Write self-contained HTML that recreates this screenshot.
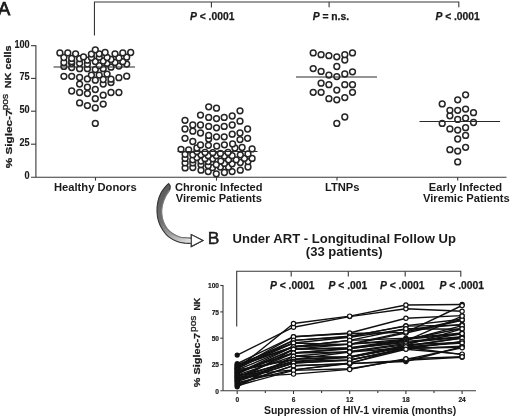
<!DOCTYPE html>
<html lang="en"><head><meta charset="utf-8"><title>Figure</title>
<style>
html,body{margin:0;padding:0;background:#fff;}
body{width:520px;height:419px;overflow:hidden;position:relative;font-family:"Liberation Sans",Arial,sans-serif;}
svg text{white-space:pre;}
</style></head><body>
<svg width="520" height="419" viewBox="0 0 520 419" style="display:block;position:absolute;left:0;top:0">
<defs><linearGradient id="ag" gradientUnits="userSpaceOnUse" x1="160" y1="186" x2="196" y2="246"><stop offset="0" stop-color="#5a5a5a"/><stop offset="0.45" stop-color="#6e6e6e"/><stop offset="0.78" stop-color="#bdbdbd"/><stop offset="1" stop-color="#fff"/></linearGradient></defs>
<rect width="520" height="419" fill="#fff"/>
<g stroke="#383838" stroke-width="1.1" fill="none" stroke-linecap="butt">
<path d="M35.9 45.2V177.3"/>
<path d="M31 177.3H506.5"/>
<path d="M31 45.7H35.9"/>
<path d="M31 78.4H35.9"/>
<path d="M31 111.2H35.9"/>
<path d="M31 144.2H35.9"/>
<path d="M95.5 177.3V180.6"/>
<path d="M216.5 177.3V180.6"/>
<path d="M337 177.3V180.6"/>
<path d="M457.7 177.3V180.6"/>
<path d="M94.45 35.4V2H458.8V7.3"/>
<path d="M211.4 2V7.6"/><path d="M329.1 2V7.3"/>
</g>
<g fill="#fff" stroke="#262626" stroke-width="1.5">
<circle cx="95.3" cy="123.4" r="2.9"/><circle cx="95.3" cy="107.9" r="2.9"/><circle cx="87.4" cy="105.6" r="2.9"/><circle cx="103.2" cy="104.1" r="2.9"/><circle cx="79.6" cy="102.9" r="2.9"/><circle cx="95.3" cy="98.7" r="2.9"/><circle cx="103.2" cy="95.2" r="2.9"/><circle cx="87.4" cy="93.6" r="2.9"/><circle cx="79.6" cy="92.5" r="2.9"/><circle cx="111.0" cy="92.5" r="2.9"/><circle cx="118.9" cy="92.5" r="2.9"/><circle cx="71.7" cy="91.0" r="2.9"/><circle cx="95.3" cy="89.5" r="2.9"/><circle cx="87.4" cy="87.2" r="2.9"/><circle cx="79.6" cy="84.1" r="2.9"/><circle cx="103.2" cy="84.1" r="2.9"/><circle cx="111.0" cy="82.5" r="2.9"/><circle cx="95.3" cy="80.2" r="2.9"/><circle cx="103.2" cy="79.5" r="2.9"/><circle cx="111.0" cy="79.2" r="2.9"/><circle cx="87.4" cy="78.9" r="2.9"/><circle cx="118.9" cy="77.7" r="2.9"/><circle cx="79.6" cy="77.5" r="2.9"/><circle cx="63.9" cy="76.3" r="2.9"/><circle cx="71.7" cy="76.3" r="2.9"/><circle cx="126.7" cy="76.2" r="2.9"/><circle cx="91.4" cy="75.1" r="2.9"/><circle cx="99.2" cy="75.1" r="2.9"/><circle cx="107.1" cy="74.1" r="2.9"/><circle cx="95.3" cy="69.5" r="2.9"/><circle cx="79.6" cy="68.7" r="2.9"/><circle cx="87.4" cy="68.7" r="2.9"/><circle cx="103.2" cy="68.7" r="2.9"/><circle cx="71.7" cy="67.6" r="2.9"/><circle cx="111.0" cy="67.2" r="2.9"/><circle cx="63.9" cy="66.4" r="2.9"/><circle cx="118.9" cy="66.1" r="2.9"/><circle cx="99.2" cy="65.6" r="2.9"/><circle cx="87.4" cy="64.1" r="2.9"/><circle cx="126.7" cy="64.1" r="2.9"/><circle cx="71.7" cy="63.3" r="2.9"/><circle cx="79.6" cy="63.3" r="2.9"/><circle cx="107.1" cy="63.3" r="2.9"/><circle cx="63.9" cy="62.5" r="2.9"/><circle cx="115.0" cy="62.5" r="2.9"/><circle cx="71.7" cy="61.7" r="2.9"/><circle cx="122.8" cy="61.7" r="2.9"/><circle cx="95.3" cy="61.5" r="2.9"/><circle cx="103.2" cy="61.0" r="2.9"/><circle cx="87.4" cy="60.2" r="2.9"/><circle cx="111.0" cy="59.5" r="2.9"/><circle cx="79.6" cy="58.7" r="2.9"/><circle cx="71.7" cy="58.4" r="2.9"/><circle cx="118.9" cy="57.9" r="2.9"/><circle cx="63.9" cy="57.5" r="2.9"/><circle cx="91.4" cy="57.5" r="2.9"/><circle cx="107.1" cy="57.5" r="2.9"/><circle cx="99.2" cy="57.2" r="2.9"/><circle cx="126.7" cy="57.2" r="2.9"/><circle cx="83.5" cy="56.9" r="2.9"/><circle cx="91.4" cy="54.1" r="2.9"/><circle cx="75.6" cy="53.8" r="2.9"/><circle cx="99.2" cy="53.8" r="2.9"/><circle cx="115.0" cy="53.8" r="2.9"/><circle cx="59.9" cy="52.9" r="2.9"/><circle cx="67.8" cy="52.9" r="2.9"/><circle cx="122.8" cy="52.9" r="2.9"/><circle cx="105.1" cy="52.5" r="2.9"/><circle cx="130.7" cy="52.5" r="2.9"/><circle cx="95.3" cy="49.8" r="2.9"/>
<circle cx="216.3" cy="173.8" r="2.9"/><circle cx="224.4" cy="172.5" r="2.9"/><circle cx="232.1" cy="171.6" r="2.9"/><circle cx="208.2" cy="171.6" r="2.9"/><circle cx="240.3" cy="170.2" r="2.9"/><circle cx="201.0" cy="170.2" r="2.9"/><circle cx="185.1" cy="167.9" r="2.9"/><circle cx="212.5" cy="167.7" r="2.9"/><circle cx="192.8" cy="167.5" r="2.9"/><circle cx="248.0" cy="167.0" r="2.9"/><circle cx="228.5" cy="167.0" r="2.9"/><circle cx="220.4" cy="167.0" r="2.9"/><circle cx="208.2" cy="165.7" r="2.9"/><circle cx="216.3" cy="164.7" r="2.9"/><circle cx="201.0" cy="164.7" r="2.9"/><circle cx="232.1" cy="163.8" r="2.9"/><circle cx="224.4" cy="163.4" r="2.9"/><circle cx="185.1" cy="162.9" r="2.9"/><circle cx="192.8" cy="162.9" r="2.9"/><circle cx="240.3" cy="162.5" r="2.9"/><circle cx="248.0" cy="161.6" r="2.9"/><circle cx="208.2" cy="161.6" r="2.9"/><circle cx="220.8" cy="161.1" r="2.9"/><circle cx="201.0" cy="161.1" r="2.9"/><circle cx="236.2" cy="159.8" r="2.9"/><circle cx="228.5" cy="159.8" r="2.9"/><circle cx="192.8" cy="159.8" r="2.9"/><circle cx="212.8" cy="158.8" r="2.9"/><circle cx="205.0" cy="158.7" r="2.9"/><circle cx="252.1" cy="158.4" r="2.9"/><circle cx="244.4" cy="158.4" r="2.9"/><circle cx="185.1" cy="158.4" r="2.9"/><circle cx="196.9" cy="157.5" r="2.9"/><circle cx="224.4" cy="156.1" r="2.9"/><circle cx="216.3" cy="155.7" r="2.9"/><circle cx="232.1" cy="155.7" r="2.9"/><circle cx="208.2" cy="155.7" r="2.9"/><circle cx="240.3" cy="154.8" r="2.9"/><circle cx="192.8" cy="154.8" r="2.9"/><circle cx="201.0" cy="154.8" r="2.9"/><circle cx="185.1" cy="154.3" r="2.9"/><circle cx="248.0" cy="153.9" r="2.9"/><circle cx="220.4" cy="153.4" r="2.9"/><circle cx="212.8" cy="152.7" r="2.9"/><circle cx="228.0" cy="152.5" r="2.9"/><circle cx="205.0" cy="152.5" r="2.9"/><circle cx="196.9" cy="151.6" r="2.9"/><circle cx="188.7" cy="149.8" r="2.9"/><circle cx="181.0" cy="149.3" r="2.9"/><circle cx="252.1" cy="148.9" r="2.9"/><circle cx="234.9" cy="148.0" r="2.9"/><circle cx="196.9" cy="148.0" r="2.9"/><circle cx="242.1" cy="147.5" r="2.9"/><circle cx="216.7" cy="146.1" r="2.9"/><circle cx="208.4" cy="145.3" r="2.9"/><circle cx="200.5" cy="144.9" r="2.9"/><circle cx="224.4" cy="144.8" r="2.9"/><circle cx="232.6" cy="143.9" r="2.9"/><circle cx="192.8" cy="141.5" r="2.9"/><circle cx="240.0" cy="139.6" r="2.9"/><circle cx="208.7" cy="139.1" r="2.9"/><circle cx="185.0" cy="138.3" r="2.9"/><circle cx="247.6" cy="138.3" r="2.9"/><circle cx="216.5" cy="136.8" r="2.9"/><circle cx="224.2" cy="136.8" r="2.9"/><circle cx="208.7" cy="135.4" r="2.9"/><circle cx="232.2" cy="134.2" r="2.9"/><circle cx="200.5" cy="133.0" r="2.9"/><circle cx="240.0" cy="133.0" r="2.9"/><circle cx="192.8" cy="131.2" r="2.9"/><circle cx="185.0" cy="129.0" r="2.9"/><circle cx="247.6" cy="129.0" r="2.9"/><circle cx="216.5" cy="127.8" r="2.9"/><circle cx="208.7" cy="126.4" r="2.9"/><circle cx="224.2" cy="126.4" r="2.9"/><circle cx="192.8" cy="125.0" r="2.9"/><circle cx="200.5" cy="125.0" r="2.9"/><circle cx="232.2" cy="125.0" r="2.9"/><circle cx="240.0" cy="121.2" r="2.9"/><circle cx="185.0" cy="120.3" r="2.9"/><circle cx="216.5" cy="118.6" r="2.9"/><circle cx="208.7" cy="117.4" r="2.9"/><circle cx="224.2" cy="117.4" r="2.9"/><circle cx="232.2" cy="116.0" r="2.9"/><circle cx="200.5" cy="115.1" r="2.9"/><circle cx="240.0" cy="110.8" r="2.9"/><circle cx="216.5" cy="108.2" r="2.9"/><circle cx="208.7" cy="106.8" r="2.9"/>
<circle cx="336.8" cy="123.4" r="2.9"/><circle cx="344.8" cy="117.0" r="2.9"/><circle cx="336.8" cy="99.8" r="2.9"/><circle cx="328.9" cy="98.7" r="2.9"/><circle cx="344.8" cy="97.6" r="2.9"/><circle cx="313.2" cy="92.3" r="2.9"/><circle cx="321.1" cy="92.3" r="2.9"/><circle cx="352.5" cy="92.3" r="2.9"/><circle cx="336.8" cy="90.1" r="2.9"/><circle cx="328.9" cy="84.7" r="2.9"/><circle cx="344.8" cy="84.7" r="2.9"/><circle cx="352.5" cy="84.7" r="2.9"/><circle cx="321.1" cy="83.2" r="2.9"/><circle cx="336.8" cy="76.6" r="2.9"/><circle cx="328.9" cy="75.1" r="2.9"/><circle cx="344.8" cy="74.0" r="2.9"/><circle cx="352.5" cy="71.8" r="2.9"/><circle cx="321.1" cy="71.4" r="2.9"/><circle cx="313.2" cy="68.6" r="2.9"/><circle cx="336.8" cy="66.5" r="2.9"/><circle cx="344.8" cy="60.0" r="2.9"/><circle cx="336.8" cy="56.8" r="2.9"/><circle cx="328.9" cy="55.7" r="2.9"/><circle cx="321.1" cy="54.7" r="2.9"/><circle cx="344.8" cy="54.7" r="2.9"/><circle cx="313.2" cy="52.9" r="2.9"/><circle cx="352.5" cy="52.9" r="2.9"/>
<circle cx="457.7" cy="161.9" r="2.9"/><circle cx="457.7" cy="151.1" r="2.9"/><circle cx="449.9" cy="149.7" r="2.9"/><circle cx="465.6" cy="147.3" r="2.9"/><circle cx="457.7" cy="139.0" r="2.9"/><circle cx="465.6" cy="135.4" r="2.9"/><circle cx="457.7" cy="130.1" r="2.9"/><circle cx="449.9" cy="128.9" r="2.9"/><circle cx="465.6" cy="127.7" r="2.9"/><circle cx="442.2" cy="123.4" r="2.9"/><circle cx="473.5" cy="122.5" r="2.9"/><circle cx="457.7" cy="119.4" r="2.9"/><circle cx="465.6" cy="118.2" r="2.9"/><circle cx="449.9" cy="115.8" r="2.9"/><circle cx="473.5" cy="112.7" r="2.9"/><circle cx="449.9" cy="110.3" r="2.9"/><circle cx="457.7" cy="110.3" r="2.9"/><circle cx="465.6" cy="109.1" r="2.9"/><circle cx="442.2" cy="103.9" r="2.9"/><circle cx="457.7" cy="99.8" r="2.9"/><circle cx="465.6" cy="94.8" r="2.9"/>
</g>
<g stroke="#2a2a2a" stroke-width="1.05" fill="none">
<path d="M53.5 66.9H135"/><path d="M177.5 151.5H257.5"/><path d="M296 77H377"/><path d="M419.5 121.5H500.1"/>
</g>
<g font-family="Liberation Sans, Arial, Helvetica, sans-serif" fill="#1a1a1a" font-weight="bold">
<text x="-2.1" y="14.9" font-size="18.4" font-weight="normal" stroke="#1a1a1a" stroke-width="0.75">A</text>
<text transform="translate(29.7 47.6) scale(0.88 1)" text-anchor="end" font-size="10.4" stroke="#1a1a1a" stroke-width="0.12">100</text>
<text transform="translate(29.7 80.3) scale(0.88 1)" text-anchor="end" font-size="10.4" stroke="#1a1a1a" stroke-width="0.12">75</text>
<text transform="translate(29.7 113.1) scale(0.88 1)" text-anchor="end" font-size="10.4" stroke="#1a1a1a" stroke-width="0.12">50</text>
<text transform="translate(29.7 146.1) scale(0.88 1)" text-anchor="end" font-size="10.4" stroke="#1a1a1a" stroke-width="0.12">25</text>
<text transform="translate(29.7 179.2) scale(0.88 1)" text-anchor="end" font-size="10.4" stroke="#1a1a1a" stroke-width="0.12">0</text>
<text transform="translate(11.6 168.2) rotate(-90) scale(1.2 1)" font-size="9.8" stroke="#1a1a1a" stroke-width="0.25">% Siglec-7</text>
<text transform="translate(7.5 110.3) rotate(-90) scale(1.04 1)" font-size="9.8" font-weight="normal" stroke="#1a1a1a" stroke-width="0.3">pos</text>
<text transform="translate(11.2 88.3) rotate(-90) scale(1.12 1)" font-size="9.7" stroke="#1a1a1a" stroke-width="0.25">NK cells</text>
<text x="190" y="19.8" font-size="10.3" stroke="#1a1a1a" stroke-width="0.25"><tspan font-style="italic">P</tspan> &lt; .0001</text>
<text x="312.7" y="19.8" font-size="10.3" stroke="#1a1a1a" stroke-width="0.25"><tspan font-style="italic">P</tspan> = n.s.</text>
<text x="435.4" y="19.8" font-size="10.3" stroke="#1a1a1a" stroke-width="0.25"><tspan font-style="italic">P</tspan> &lt; .0001</text>
<text x="95.3" y="190.9" font-size="11.2" text-anchor="middle">Healthy Donors</text>
<text x="218.8" y="190.9" font-size="11.1" text-anchor="middle">Chronic Infected</text>
<text x="218.8" y="202.2" font-size="11.1" text-anchor="middle">Viremic Patients</text>
<text x="342.2" y="190.8" font-size="11.2" text-anchor="middle">LTNPs</text>
<text x="465.5" y="190.8" font-size="11.2" text-anchor="middle">Early Infected</text>
<text x="466.4" y="202.2" font-size="11.2" text-anchor="middle">Viremic Patients</text>
</g>
<path d="M168.7 183.7 C168.3 184.1 167.4 184.4 166.2 185.9 C164.9 187.4 162.6 189.9 161.2 192.5 C159.8 195.1 158.6 198.5 157.9 201.7 C157.2 204.9 156.9 208.5 157.0 211.8 C157.1 215.2 157.7 218.7 158.7 221.8 C159.7 224.9 161.2 227.7 162.9 230.2 C164.6 232.7 166.3 235.0 168.7 236.9 C171.1 238.8 174.3 240.4 177.1 241.5 C179.9 242.6 183.0 242.9 185.4 243.2 C187.8 243.5 190.3 243.3 191.3 243.3 L191.3 246.6 L202.9 240.5 L191.3 234.6 L191.3 238.1 C189.5 237.9 183.5 237.9 180.4 237.2 C177.3 236.5 175.1 235.2 172.9 233.8 C170.7 232.4 168.7 230.5 167.1 228.5 C165.5 226.5 164.3 224.3 163.4 221.8 C162.5 219.3 161.9 216.2 161.7 213.4 C161.5 210.6 161.8 207.9 162.4 205.1 C163.0 202.3 164.2 199.2 165.4 196.7 C166.6 194.2 168.8 191.8 169.6 190.0 C170.4 188.2 170.1 186.7 170.2 186.0 Z" fill="url(#ag)" stroke="#333" stroke-width="1.1" stroke-linejoin="miter"/>
<path d="M191.3 238.1 L191.3 234.6 L202.9 240.5 L191.3 246.6 L191.3 243.3 Z" fill="#fff" stroke="#333" stroke-width="1.1"/>
<path d="M190 239.3 C188.4 239.0 183.2 238.1 180.4 237.2 C177.6 236.3 175.1 235.2 172.9 233.8 C170.7 232.4 168.7 230.5 167.1 228.5 C165.5 226.5 164.3 224.3 163.4 221.8 C162.5 219.3 161.9 216.2 161.7 213.4 C161.5 210.6 161.8 207.9 162.4 205.1 C163.0 202.3 164.2 199.2 165.4 196.7 C166.6 194.2 168.9 191.1 169.6 190.0" fill="none" stroke="#fff" stroke-opacity="0.35" stroke-width="1.2"/>
<g stroke="#383838" stroke-width="1.1" fill="none">
<path d="M223 285V390.7"/>
<path d="M220.3 390.7H476"/>
<path d="M220.3 285.5H223"/>
<path d="M220.3 311.9H223"/>
<path d="M220.3 338.2H223"/>
<path d="M220.3 364.6H223"/>
<path d="M237.2 391V394"/>
<path d="M293.5 391V394"/>
<path d="M349.7 391V394"/>
<path d="M405.9 391V394"/>
<path d="M462.1 391V394"/>
<path d="M265.3 391V393"/>
<path d="M321.6 391V393"/>
<path d="M377.8 391V393"/>
<path d="M434 391V393"/>
<path d="M236.7 326.5V271.2H460.8V276.8"/>
<path d="M291.2 271.2V276.5"/>
<path d="M348.3 271.2V276.5"/>
<path d="M405.2 271.2V276.5"/>
</g>
<g stroke="#111" stroke-width="1.4" fill="none" stroke-linejoin="round">
<path d="M237.2 355.1 L293.5 327.2 L349.7 316.6 L405.9 308.7 L462.1 311.3"/>
<path d="M237.2 368.8 L293.5 323.5 L349.7 316.1 L405.9 305.0 L462.1 304.5"/>
<path d="M237.2 363.6 L293.5 336.7 L349.7 333.5 L405.9 332.4 L462.1 305.5"/>
<path d="M237.2 367.8 L293.5 336.7 L349.7 333.0 L405.9 318.2 L462.1 315.6"/>
<path d="M237.2 368.8 L293.5 340.4 L349.7 336.7 L405.9 325.6 L462.1 319.3"/>
<path d="M237.2 365.7 L293.5 340.4 L349.7 336.1 L405.9 326.1 L462.1 325.1"/>
<path d="M237.2 364.6 L293.5 343.0 L349.7 337.2 L405.9 329.3 L462.1 324.5"/>
<path d="M237.2 367.8 L293.5 343.0 L349.7 344.6 L405.9 333.0 L462.1 320.3"/>
<path d="M237.2 369.9 L293.5 346.7 L349.7 340.4 L405.9 338.2 L462.1 333.0"/>
<path d="M237.2 373.1 L293.5 346.7 L349.7 344.1 L405.9 331.9 L462.1 319.8"/>
<path d="M237.2 365.7 L293.5 346.7 L349.7 340.4 L405.9 328.8 L462.1 329.3"/>
<path d="M237.2 366.7 L293.5 346.7 L349.7 344.1 L405.9 339.3 L462.1 334.0"/>
<path d="M237.2 374.1 L293.5 349.3 L349.7 347.7 L405.9 339.8 L462.1 328.2"/>
<path d="M237.2 373.1 L293.5 349.3 L349.7 344.1 L405.9 340.9 L462.1 316.1"/>
<path d="M237.2 380.4 L293.5 349.3 L349.7 348.3 L405.9 340.4 L462.1 325.6"/>
<path d="M237.2 377.3 L293.5 353.0 L349.7 348.8 L405.9 341.4 L462.1 336.7"/>
<path d="M237.2 372.0 L293.5 353.0 L349.7 348.3 L405.9 342.5 L462.1 337.2"/>
<path d="M237.2 372.0 L293.5 353.0 L349.7 352.0 L405.9 344.6 L462.1 342.5"/>
<path d="M237.2 386.8 L293.5 356.2 L349.7 351.4 L405.9 343.5 L462.1 333.5"/>
<path d="M237.2 375.2 L293.5 356.2 L349.7 357.2 L405.9 346.2 L462.1 337.7"/>
<path d="M237.2 371.0 L293.5 359.4 L349.7 352.0 L405.9 347.7 L462.1 341.9"/>
<path d="M237.2 369.9 L293.5 359.4 L349.7 357.2 L405.9 345.6 L462.1 338.2"/>
<path d="M237.2 378.3 L293.5 359.4 L349.7 356.7 L405.9 345.1 L462.1 328.8"/>
<path d="M237.2 379.4 L293.5 361.5 L349.7 359.9 L405.9 348.8 L462.1 346.2"/>
<path d="M237.2 376.2 L293.5 361.5 L349.7 357.2 L405.9 347.2 L462.1 354.6"/>
<path d="M237.2 380.4 L293.5 363.0 L349.7 360.4 L405.9 348.3 L462.1 347.2"/>
<path d="M237.2 381.5 L293.5 363.0 L349.7 359.9 L405.9 348.8 L462.1 341.4"/>
<path d="M237.2 383.6 L293.5 365.7 L349.7 363.6 L405.9 346.7 L462.1 343.0"/>
<path d="M237.2 384.7 L293.5 365.7 L349.7 363.6 L405.9 361.5 L462.1 346.7"/>
<path d="M237.2 382.6 L293.5 369.9 L349.7 363.6 L405.9 360.4 L462.1 357.2"/>
<path d="M237.2 375.2 L293.5 369.9 L349.7 363.0 L405.9 349.3 L462.1 354.1"/>
<path d="M237.2 385.7 L293.5 370.4 L349.7 368.8 L405.9 359.4 L462.1 347.7"/>
<path d="M237.2 377.3 L293.5 374.1 L349.7 369.4 L405.9 358.8 L462.1 356.7"/>
</g>
<g fill="#111">
<circle cx="237.2" cy="355.1" r="2.6"/>
<circle cx="237.2" cy="368.8" r="2.6"/>
<circle cx="237.2" cy="363.6" r="2.6"/>
<circle cx="237.2" cy="367.8" r="2.6"/>
<circle cx="237.2" cy="368.8" r="2.6"/>
<circle cx="237.2" cy="365.7" r="2.6"/>
<circle cx="237.2" cy="364.6" r="2.6"/>
<circle cx="237.2" cy="367.8" r="2.6"/>
<circle cx="237.2" cy="369.9" r="2.6"/>
<circle cx="237.2" cy="373.1" r="2.6"/>
<circle cx="237.2" cy="365.7" r="2.6"/>
<circle cx="237.2" cy="366.7" r="2.6"/>
<circle cx="237.2" cy="374.1" r="2.6"/>
<circle cx="237.2" cy="373.1" r="2.6"/>
<circle cx="237.2" cy="380.4" r="2.6"/>
<circle cx="237.2" cy="377.3" r="2.6"/>
<circle cx="237.2" cy="372.0" r="2.6"/>
<circle cx="237.2" cy="372.0" r="2.6"/>
<circle cx="237.2" cy="386.8" r="2.6"/>
<circle cx="237.2" cy="375.2" r="2.6"/>
<circle cx="237.2" cy="371.0" r="2.6"/>
<circle cx="237.2" cy="369.9" r="2.6"/>
<circle cx="237.2" cy="378.3" r="2.6"/>
<circle cx="237.2" cy="379.4" r="2.6"/>
<circle cx="237.2" cy="376.2" r="2.6"/>
<circle cx="237.2" cy="380.4" r="2.6"/>
<circle cx="237.2" cy="381.5" r="2.6"/>
<circle cx="237.2" cy="383.6" r="2.6"/>
<circle cx="237.2" cy="384.7" r="2.6"/>
<circle cx="237.2" cy="382.6" r="2.6"/>
<circle cx="237.2" cy="375.2" r="2.6"/>
<circle cx="237.2" cy="385.7" r="2.6"/>
<circle cx="237.2" cy="377.3" r="2.6"/>
</g>
<g fill="#fff" stroke="#111" stroke-width="1.15">
<circle cx="293.5" cy="327.2" r="2.15"/>
<circle cx="349.7" cy="316.6" r="2.15"/>
<circle cx="405.9" cy="308.7" r="2.15"/>
<circle cx="462.1" cy="311.3" r="2.15"/>
<circle cx="293.5" cy="323.5" r="2.15"/>
<circle cx="349.7" cy="316.1" r="2.15"/>
<circle cx="405.9" cy="305.0" r="2.15"/>
<circle cx="462.1" cy="304.5" r="2.15"/>
<circle cx="293.5" cy="336.7" r="2.15"/>
<circle cx="349.7" cy="333.5" r="2.15"/>
<circle cx="405.9" cy="332.4" r="2.15"/>
<circle cx="462.1" cy="305.5" r="2.15"/>
<circle cx="293.5" cy="336.7" r="2.15"/>
<circle cx="349.7" cy="333.0" r="2.15"/>
<circle cx="405.9" cy="318.2" r="2.15"/>
<circle cx="462.1" cy="315.6" r="2.15"/>
<circle cx="293.5" cy="340.4" r="2.15"/>
<circle cx="349.7" cy="336.7" r="2.15"/>
<circle cx="405.9" cy="325.6" r="2.15"/>
<circle cx="462.1" cy="319.3" r="2.15"/>
<circle cx="293.5" cy="340.4" r="2.15"/>
<circle cx="349.7" cy="336.1" r="2.15"/>
<circle cx="405.9" cy="326.1" r="2.15"/>
<circle cx="462.1" cy="325.1" r="2.15"/>
<circle cx="293.5" cy="343.0" r="2.15"/>
<circle cx="349.7" cy="337.2" r="2.15"/>
<circle cx="405.9" cy="329.3" r="2.15"/>
<circle cx="462.1" cy="324.5" r="2.15"/>
<circle cx="293.5" cy="343.0" r="2.15"/>
<circle cx="349.7" cy="344.6" r="2.15"/>
<circle cx="405.9" cy="333.0" r="2.15"/>
<circle cx="462.1" cy="320.3" r="2.15"/>
<circle cx="293.5" cy="346.7" r="2.15"/>
<circle cx="349.7" cy="340.4" r="2.15"/>
<circle cx="405.9" cy="338.2" r="2.15"/>
<circle cx="462.1" cy="333.0" r="2.15"/>
<circle cx="293.5" cy="346.7" r="2.15"/>
<circle cx="349.7" cy="344.1" r="2.15"/>
<circle cx="405.9" cy="331.9" r="2.15"/>
<circle cx="462.1" cy="319.8" r="2.15"/>
<circle cx="293.5" cy="346.7" r="2.15"/>
<circle cx="349.7" cy="340.4" r="2.15"/>
<circle cx="405.9" cy="328.8" r="2.15"/>
<circle cx="462.1" cy="329.3" r="2.15"/>
<circle cx="293.5" cy="346.7" r="2.15"/>
<circle cx="349.7" cy="344.1" r="2.15"/>
<circle cx="405.9" cy="339.3" r="2.15"/>
<circle cx="462.1" cy="334.0" r="2.15"/>
<circle cx="293.5" cy="349.3" r="2.15"/>
<circle cx="349.7" cy="347.7" r="2.15"/>
<circle cx="405.9" cy="339.8" r="2.15"/>
<circle cx="462.1" cy="328.2" r="2.15"/>
<circle cx="293.5" cy="349.3" r="2.15"/>
<circle cx="349.7" cy="344.1" r="2.15"/>
<circle cx="405.9" cy="340.9" r="2.15"/>
<circle cx="462.1" cy="316.1" r="2.15"/>
<circle cx="293.5" cy="349.3" r="2.15"/>
<circle cx="349.7" cy="348.3" r="2.15"/>
<circle cx="405.9" cy="340.4" r="2.15"/>
<circle cx="462.1" cy="325.6" r="2.15"/>
<circle cx="293.5" cy="353.0" r="2.15"/>
<circle cx="349.7" cy="348.8" r="2.15"/>
<circle cx="405.9" cy="341.4" r="2.15"/>
<circle cx="462.1" cy="336.7" r="2.15"/>
<circle cx="293.5" cy="353.0" r="2.15"/>
<circle cx="349.7" cy="348.3" r="2.15"/>
<circle cx="405.9" cy="342.5" r="2.15"/>
<circle cx="462.1" cy="337.2" r="2.15"/>
<circle cx="293.5" cy="353.0" r="2.15"/>
<circle cx="349.7" cy="352.0" r="2.15"/>
<circle cx="405.9" cy="344.6" r="2.15"/>
<circle cx="462.1" cy="342.5" r="2.15"/>
<circle cx="293.5" cy="356.2" r="2.15"/>
<circle cx="349.7" cy="351.4" r="2.15"/>
<circle cx="405.9" cy="343.5" r="2.15"/>
<circle cx="462.1" cy="333.5" r="2.15"/>
<circle cx="293.5" cy="356.2" r="2.15"/>
<circle cx="349.7" cy="357.2" r="2.15"/>
<circle cx="405.9" cy="346.2" r="2.15"/>
<circle cx="462.1" cy="337.7" r="2.15"/>
<circle cx="293.5" cy="359.4" r="2.15"/>
<circle cx="349.7" cy="352.0" r="2.15"/>
<circle cx="405.9" cy="347.7" r="2.15"/>
<circle cx="462.1" cy="341.9" r="2.15"/>
<circle cx="293.5" cy="359.4" r="2.15"/>
<circle cx="349.7" cy="357.2" r="2.15"/>
<circle cx="405.9" cy="345.6" r="2.15"/>
<circle cx="462.1" cy="338.2" r="2.15"/>
<circle cx="293.5" cy="359.4" r="2.15"/>
<circle cx="349.7" cy="356.7" r="2.15"/>
<circle cx="405.9" cy="345.1" r="2.15"/>
<circle cx="462.1" cy="328.8" r="2.15"/>
<circle cx="293.5" cy="361.5" r="2.15"/>
<circle cx="349.7" cy="359.9" r="2.15"/>
<circle cx="405.9" cy="348.8" r="2.15"/>
<circle cx="462.1" cy="346.2" r="2.15"/>
<circle cx="293.5" cy="361.5" r="2.15"/>
<circle cx="349.7" cy="357.2" r="2.15"/>
<circle cx="405.9" cy="347.2" r="2.15"/>
<circle cx="462.1" cy="354.6" r="2.15"/>
<circle cx="293.5" cy="363.0" r="2.15"/>
<circle cx="349.7" cy="360.4" r="2.15"/>
<circle cx="405.9" cy="348.3" r="2.15"/>
<circle cx="462.1" cy="347.2" r="2.15"/>
<circle cx="293.5" cy="363.0" r="2.15"/>
<circle cx="349.7" cy="359.9" r="2.15"/>
<circle cx="405.9" cy="348.8" r="2.15"/>
<circle cx="462.1" cy="341.4" r="2.15"/>
<circle cx="293.5" cy="365.7" r="2.15"/>
<circle cx="349.7" cy="363.6" r="2.15"/>
<circle cx="405.9" cy="346.7" r="2.15"/>
<circle cx="462.1" cy="343.0" r="2.15"/>
<circle cx="293.5" cy="365.7" r="2.15"/>
<circle cx="349.7" cy="363.6" r="2.15"/>
<circle cx="405.9" cy="361.5" r="2.15"/>
<circle cx="462.1" cy="346.7" r="2.15"/>
<circle cx="293.5" cy="369.9" r="2.15"/>
<circle cx="349.7" cy="363.6" r="2.15"/>
<circle cx="405.9" cy="360.4" r="2.15"/>
<circle cx="462.1" cy="357.2" r="2.15"/>
<circle cx="293.5" cy="369.9" r="2.15"/>
<circle cx="349.7" cy="363.0" r="2.15"/>
<circle cx="405.9" cy="349.3" r="2.15"/>
<circle cx="462.1" cy="354.1" r="2.15"/>
<circle cx="293.5" cy="370.4" r="2.15"/>
<circle cx="349.7" cy="368.8" r="2.15"/>
<circle cx="405.9" cy="359.4" r="2.15"/>
<circle cx="462.1" cy="347.7" r="2.15"/>
<circle cx="293.5" cy="374.1" r="2.15"/>
<circle cx="349.7" cy="369.4" r="2.15"/>
<circle cx="405.9" cy="358.8" r="2.15"/>
<circle cx="462.1" cy="356.7" r="2.15"/>
</g>
<g font-family="Liberation Sans, Arial, Helvetica, sans-serif" fill="#1a1a1a" font-weight="bold">
<text transform="translate(219 288.1) scale(0.88 1)" text-anchor="end" font-size="7.5" stroke="#1a1a1a" stroke-width="0.2">100</text>
<text transform="translate(219 314.5) scale(0.88 1)" text-anchor="end" font-size="7.5" stroke="#1a1a1a" stroke-width="0.2">75</text>
<text transform="translate(219 340.9) scale(0.88 1)" text-anchor="end" font-size="7.5" stroke="#1a1a1a" stroke-width="0.2">50</text>
<text transform="translate(219 367.2) scale(0.88 1)" text-anchor="end" font-size="7.5" stroke="#1a1a1a" stroke-width="0.2">25</text>
<text transform="translate(219 393.6) scale(0.88 1)" text-anchor="end" font-size="7.5" stroke="#1a1a1a" stroke-width="0.2">0</text>
<text transform="translate(237.2 402.3) scale(0.88 1)" text-anchor="middle" font-size="7.5" stroke="#1a1a1a" stroke-width="0.2">0</text>
<text transform="translate(293.5 402.3) scale(0.88 1)" text-anchor="middle" font-size="7.5" stroke="#1a1a1a" stroke-width="0.2">6</text>
<text transform="translate(349.7 402.3) scale(0.88 1)" text-anchor="middle" font-size="7.5" stroke="#1a1a1a" stroke-width="0.2">12</text>
<text transform="translate(405.9 402.3) scale(0.88 1)" text-anchor="middle" font-size="7.5" stroke="#1a1a1a" stroke-width="0.2">18</text>
<text transform="translate(462.1 402.3) scale(0.88 1)" text-anchor="middle" font-size="7.5" stroke="#1a1a1a" stroke-width="0.2">24</text>
<text transform="translate(200.2 387.2) rotate(-90) scale(1.11 1)" font-size="9.8" stroke="#1a1a1a" stroke-width="0.25">% Siglec-7</text>
<text transform="translate(196.4 331.9) rotate(-90) scale(1.05 1)" font-size="9.6" font-weight="normal" stroke="#1a1a1a" stroke-width="0.3">pos</text>
<text transform="translate(200.2 310.6) rotate(-90) scale(0.92 1)" font-size="9.7" stroke="#1a1a1a" stroke-width="0.25">NK</text>
<text x="270" y="288.8" font-size="10.3" stroke="#1a1a1a" stroke-width="0.25"><tspan font-style="italic">P</tspan> &lt; .0001</text>
<text x="328.6" y="288.8" font-size="10.3" stroke="#1a1a1a" stroke-width="0.25"><tspan font-style="italic">P</tspan> &lt; .001</text>
<text x="380" y="288.8" font-size="10.3" stroke="#1a1a1a" stroke-width="0.25"><tspan font-style="italic">P</tspan> &lt; .0001</text>
<text x="439.6" y="288.8" font-size="10.3" stroke="#1a1a1a" stroke-width="0.25"><tspan font-style="italic">P</tspan> &lt; .0001</text>
<text x="232.5" y="242.8" font-size="13.05">Under ART - Longitudinal Follow Up</text>
<text x="344.3" y="255.8" font-size="13.05" text-anchor="middle">(33 patients)</text>
<text x="207.8" y="244" font-size="17.4" font-weight="normal" stroke="#1a1a1a" stroke-width="0.45">B</text>
<text x="264" y="414.3" font-size="10" textLength="192.3" lengthAdjust="spacingAndGlyphs">Suppression of HIV-1 viremia (months)</text>
</g>
</svg>
</body></html>
